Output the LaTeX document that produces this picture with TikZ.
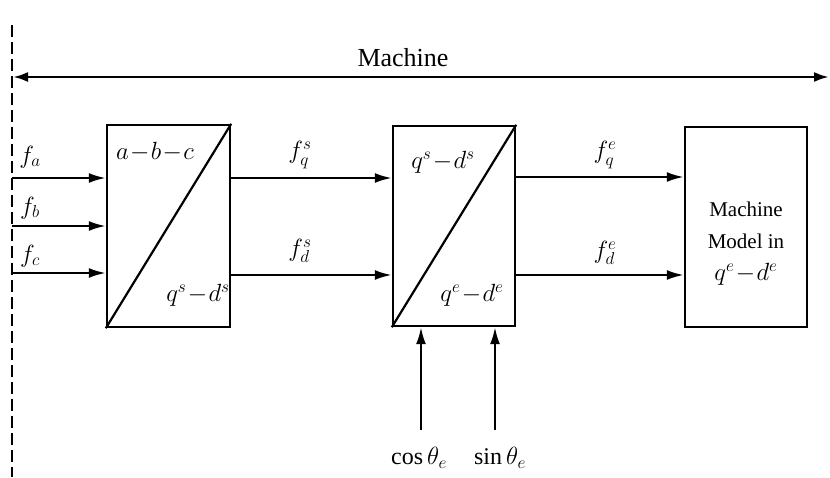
\documentclass[tikz,border=0pt]{standalone}
\usepackage{fontspec}
\setmainfont{Liberation Serif}
\usetikzlibrary{arrows.meta}
\begin{document}
\begin{tikzpicture}[x=1pt,y=-1pt,
  blk/.style={draw,line width=2.4pt,inner sep=0pt},
  sig/.style={line width=2.2pt,-{Latex[length=17pt,width=10pt]}},
  lbl/.style={inner sep=0pt,font=\fontsize{24}{26}\selectfont},
  txt/.style={inner sep=0pt,font=\fontsize{26}{30}\selectfont}]
\useasboundingbox (0,0) rectangle (830,477);
% dashed boundary
\coordinate (dtop) at (12,25);
\coordinate (dbot) at (12,477);
\draw[line width=2pt,dash pattern=on 12pt off 5pt] (dtop) -- (dbot);
% machine span
\coordinate (ml) at (13,77);
\coordinate (mr) at (829,77);
\draw[line width=2.6pt,{Latex[length=15pt,width=10pt]}-{Latex[length=15pt,width=10pt]}] (ml) -- (mr);
\node[txt] (mach) at (403,58) {Machine};
% blocks
\node[blk,minimum width=123pt,minimum height=202pt] (b1) at (168.5,226) {};
\node[blk,minimum width=122pt,minimum height=200pt] (b2) at (454,226) {};
\node[blk,minimum width=122pt,minimum height=200pt] (b3) at (746,227) {};
\draw[line width=2.2pt] (b1.south west) -- (b1.north east);
\draw[line width=2.2pt] (b2.south west) -- (b2.north east);
\node[lbl] (t1a) at (155,152) {$a\!-\!b\!-\!c$};
\node[lbl] (t1b) at (198,295) {$q^s\!-\!d^s$};
\node[lbl] (t2a) at (443,162) {$q^s\!-\!d^s$};
\node[lbl] (t2b) at (472,295) {$q^e\!-\!d^e$};
\node[inner sep=0pt,align=center,font=\fontsize{21}{32}\selectfont] (t3) at (746,244) {Machine\\Model in\\{\fontsize{24}{26}\selectfont$q^e\!-\!d^e$}};
% inputs
\coordinate (ia) at (12,178);
\coordinate (ib) at (12,226);
\coordinate (ic) at (12,273);
\draw[sig] (ia) -- (ia -| b1.west);
\draw[sig] (ib) -- (ib -| b1.west);
\draw[sig] (ic) -- (ic -| b1.west);
\node[lbl] (fa) at (30,157) {$f_a$};
\node[lbl] (fb) at (30,208) {$f_b$};
\node[lbl] (fc) at (30,256) {$f_c$};
% between blocks
\coordinate (q1) at (b1.east |- 0,178);
\coordinate (d1) at (b1.east |- 0,275);
\draw[sig] (q1) -- (q1 -| b2.west);
\draw[sig] (d1) -- (d1 -| b2.west);
\node[lbl] (fqs) at (300,155) {$f_q^s$};
\node[lbl] (fds) at (300,251) {$f_d^s$};
\coordinate (q2) at (b2.east |- 0,177);
\coordinate (d2) at (b2.east |- 0,275);
\draw[sig] (q2) -- (q2 -| b3.west);
\draw[sig] (d2) -- (d2 -| b3.west);
\node[lbl] (fqe) at (605,155) {$f_q^e$};
\node[lbl] (fde) at (605,253) {$f_d^e$};
% cos / sin
\node[inner sep=0pt,font=\fontsize{24}{26}\selectfont] (cs) at (419,458) {cos\,$\theta_e$};
\node[inner sep=0pt,font=\fontsize{24}{26}\selectfont] (sn) at (500,458) {sin\,$\theta_e$};
\coordinate (cst) at (421,430);
\coordinate (snt) at (495,430);
\draw[sig] (cst) -- (cst |- b2.south);
\draw[sig] (snt) -- (snt |- b2.south);
\end{tikzpicture}
\end{document}
